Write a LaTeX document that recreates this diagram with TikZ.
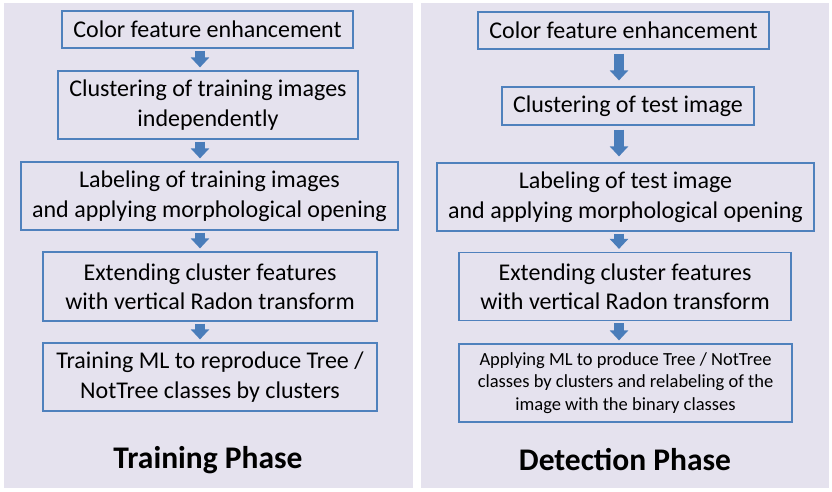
\documentclass[tikz,border=0pt]{standalone}
\usepackage{fontspec}
\setmainfont{Carlito}
\usetikzlibrary{arrows.meta}
\definecolor{panelbg}{HTML}{E5E2EE}
\definecolor{boxblue}{HTML}{4F81BD}
\definecolor{arrblue}{HTML}{4A7DBA}
\tikzset{
  panel/.style={fill=panelbg, draw=none},
  stepbox/.style={draw=boxblue, line width=1.2pt, fill=panelbg, align=center, inner sep=0pt,
    font=\fontsize{24}{29.5}\selectfont},
  smallbox/.style={stepbox, font=\fontsize{18.5}{22.5}\selectfont},
  phasetitle/.style={font=\fontsize{31.5}{36}\selectfont\bfseries},
  flowarrow/.style={draw=arrblue, line width=10pt, -{Triangle[width=18pt,length=10pt]}},
}
\begin{document}
\begin{tikzpicture}[x=1pt,y=-1pt]
\useasboundingbox (0,0) rectangle (832,491);
\fill[white] (0,0) rectangle (832,491);
\path[panel] (4,3) rectangle (413,488);
\path[panel] (421,3) rectangle (829,488);

% columns for arrows
\coordinate (colL) at (200,0);
\coordinate (colR) at (619,0);

% Training phase
\node[stepbox, minimum width=291, minimum height=37] (L1) at (207.5,29.5) {Color feature enhancement};
\node[stepbox, minimum width=300, minimum height=68] (L2) at (208,105) {Clustering of training images\\independently};
\node[stepbox, minimum width=377, minimum height=68] (L3) at (209.5,196) {Labeling of training images\\and applying morphological opening};
\node[stepbox, minimum width=334, minimum height=69] (L4) at (210,286.5) {Extending cluster features\\with vertical Radon transform};
\node[stepbox, minimum width=334, minimum height=68] (L5) at (210,377) {Training ML to reproduce Tree /\\NotTree classes by clusters};
\node[phasetitle] (LT) at (208,460) {Training Phase};

% Detection phase
\node[stepbox, minimum width=291, minimum height=37] (R1) at (623.5,30.5) {Color feature enhancement};
\node[stepbox, minimum width=252, minimum height=38] (R2) at (628,106) {Clustering of test image};
\node[stepbox, minimum width=377, minimum height=68] (R3) at (625.5,197) {Labeling of test image\\and applying morphological opening};
\node[stepbox, minimum width=332, minimum height=68] (R4) at (625,286.5) {Extending cluster features\\with vertical Radon transform};
\node[smallbox, minimum width=333, minimum height=78] (R5) at (625.5,383) {Applying ML to produce Tree / NotTree\\classes by clusters and relabeling of the\\image with the binary classes};
\node[phasetitle] (RT) at (625,460) {Detection Phase};

% arrows left
\draw[flowarrow, shorten <=2pt, shorten >=3pt] (L1.south -| colL) -- (L2.north -| colL);
\draw[flowarrow, shorten <=2pt, shorten >=3pt] (L2.south -| colL) -- (L3.north -| colL);
\draw[flowarrow, shorten <=2pt, shorten >=3pt] (L3.south -| colL) -- (L4.north -| colL);
\draw[flowarrow, shorten <=2pt, shorten >=3pt] (L4.south -| colL) -- (L5.north -| colL);

% arrows right
\draw[flowarrow, shorten <=4pt, shorten >=6pt] (R1.south -| colR) -- (R2.north -| colR);
\draw[flowarrow, shorten <=4pt, shorten >=6pt] (R2.south -| colR) -- (R3.north -| colR);
\draw[flowarrow, shorten <=2pt, shorten >=3pt] (R3.south -| colR) -- (R4.north -| colR);
\draw[flowarrow, shorten <=2pt, shorten >=3pt] (R4.south -| colR) -- (R5.north -| colR);
\end{tikzpicture}
\end{document}
